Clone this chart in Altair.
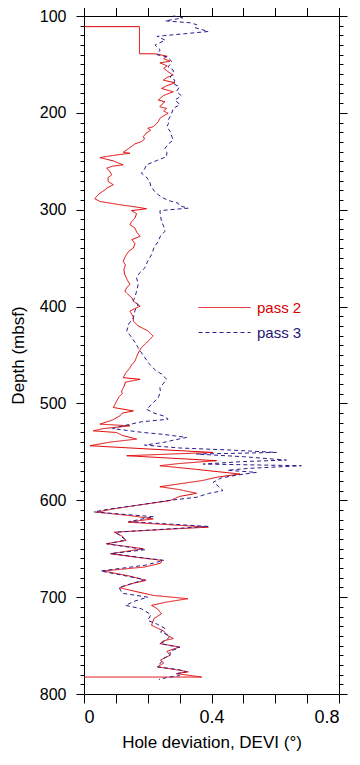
import altair as alt
import pandas as pd

series = ["pass 2", "pass 3"]

depth_pass2 = [111, 111, 139, 139, 141.5, 144, 146.7, 148.4, 151.5, 154, 157.6, 161, 163.5, 166.2, 169, 172, 174.8,
               178.2, 182, 186.8, 188.5, 191, 193.7, 195.4, 198, 200.5, 203, 205.7, 209, 212, 214.3, 216, 218, 221,
               224.6, 227, 229.7, 232, 235.9, 238, 240.7, 241.7, 244, 246.2, 249.6, 251.5, 253.7, 255, 257.2, 260,
               264, 267, 270.9, 274.3, 277, 279.5, 283, 286, 288.7, 291.5, 294.9, 297, 299, 301, 304, 308.5, 312,
               315.4, 319, 323, 327.5, 330.9, 335, 339.5, 343, 348, 353.2, 357, 362, 366.9, 372, 377.2, 380, 384.1,
               388, 391, 394.4, 397, 399.6, 402, 404.7, 408, 411, 415, 420, 425, 430.5, 436, 442.5, 448, 452, 456.2,
               460, 465, 469, 473.4, 475.1, 478, 483, 487.1, 490, 493, 499, 504.2, 507.7, 510, 512.8, 517, 521.4,
               523.1, 526, 528.3, 530, 533, 536.8, 540, 543.7, 547, 550.6, 554, 557, 559.1, 562, 564.3, 568, 572.9,
               576, 579.7, 583, 586, 589, 592.8, 596, 600.3, 605, 609, 612.3, 616, 619.2, 622.6, 627.7, 632.9, 637,
               641.5, 644.9, 650, 655.2, 659, 662.1, 665, 668.9, 673, 678, 682.7, 686, 690.3, 694, 698.2, 701.6,
               705, 708.5, 712, 717.1, 722, 726, 729.1, 735, 739, 742.8, 745, 748, 751.4, 756, 760, 765, 768, 772,
               775, 777.1, 779, 782.5, 782.5]
devi_pass2 = [0.0, 0.174, 0.174, 0.223, 0.261, 0.25, 0.27, 0.238, 0.261, 0.25, 0.264, 0.28, 0.26, 0.249, 0.285, 0.26,
              0.243, 0.28, 0.25, 0.233, 0.254, 0.245, 0.238, 0.259, 0.25, 0.264, 0.25, 0.238, 0.233, 0.225, 0.217,
              0.2, 0.209, 0.195, 0.186, 0.19, 0.18, 0.16, 0.144, 0.135, 0.123, 0.144, 0.09, 0.05, 0.092, 0.105,
              0.123, 0.09, 0.071, 0.08, 0.087, 0.075, 0.076, 0.092, 0.075, 0.066, 0.05, 0.04, 0.034, 0.05, 0.113,
              0.16, 0.196, 0.149, 0.165, 0.16, 0.15, 0.144, 0.16, 0.165, 0.176, 0.15, 0.16, 0.155, 0.14, 0.13,
              0.123, 0.13, 0.125, 0.128, 0.135, 0.144, 0.135, 0.128, 0.14, 0.15, 0.155, 0.165, 0.176, 0.16, 0.144,
              0.15, 0.155, 0.155, 0.17, 0.2, 0.217, 0.2, 0.18, 0.17, 0.165, 0.16, 0.15, 0.14, 0.13, 0.123, 0.176,
              0.13, 0.125, 0.118, 0.12, 0.11, 0.1, 0.092, 0.155, 0.12, 0.113, 0.09, 0.05, 0.144, 0.06, 0.029, 0.102,
              0.12, 0.165, 0.08, 0.019, 0.2, 0.405, 0.134, 0.3, 0.416, 0.3, 0.238, 0.35, 0.489, 0.42, 0.37, 0.3,
              0.238, 0.3, 0.353, 0.3, 0.27, 0.17, 0.09, 0.04, 0.15, 0.217, 0.138, 0.39, 0.095, 0.12, 0.132, 0.07,
              0.186, 0.083, 0.17, 0.245, 0.24, 0.19, 0.06, 0.14, 0.195, 0.15, 0.112, 0.16, 0.217, 0.326, 0.26,
              0.212, 0.23, 0.243, 0.22, 0.215, 0.212, 0.25, 0.26, 0.28, 0.25, 0.238, 0.3, 0.26, 0.27, 0.24, 0.25,
              0.231, 0.29, 0.327, 0.29, 0.369, 0.0]

depth_pass3 = [100, 101, 102, 105, 107, 109, 112, 116, 121, 125, 130, 135, 140, 142.2, 146.7, 150, 152.5, 156, 159.4,
               163, 166.2, 170, 173.1, 178, 182.4, 186.8, 191.3, 195.4, 200.5, 204, 207.4, 211, 214.3, 219, 224,
               228, 232, 236.6, 241, 245.2, 249, 253.7, 258, 262.3, 266, 270.9, 276, 281.2, 285, 288, 291, 293.2,
               296, 298.4, 300, 301, 306, 312, 317, 322.3, 327, 332.6, 339, 346.3, 353, 360, 365, 370.3, 377, 384,
               390, 394, 397.8, 404, 411.5, 418, 425.4, 432, 437, 442.5, 450, 459.7, 466, 470, 475.1, 479, 483.7,
               488, 494, 500, 506, 510, 513, 516.3, 519, 523.1, 526, 530, 532, 535.1, 538, 540.3, 543, 546, 548,
               550.6, 552.3, 555, 558.5, 560, 562.6, 564.3, 567, 569, 571.2, 574, 577, 581.4, 585, 590, 593, 596.9,
               600, 605, 609, 612, 617, 622, 627, 633, 637, 641, 645, 651, 655, 659, 662, 667, 673, 678, 682, 686,
               690, 696, 700, 704, 708.5, 712, 718, 724, 728, 732.5, 736, 740, 744, 748, 752, 756, 760, 763, 766,
               772, 775, 777, 779, 781, 783, 785]
devi_pass3 = [0.28, 0.3, 0.31, 0.255, 0.333, 0.354, 0.348, 0.39, 0.229, 0.255, 0.223, 0.239, 0.229, 0.261, 0.275,
              0.27, 0.264, 0.28, 0.28, 0.27, 0.285, 0.28, 0.3, 0.29, 0.306, 0.285, 0.301, 0.28, 0.275, 0.27, 0.264,
              0.265, 0.26, 0.27, 0.275, 0.28, 0.265, 0.254, 0.26, 0.259, 0.23, 0.196, 0.19, 0.18, 0.195, 0.206,
              0.21, 0.222, 0.235, 0.249, 0.27, 0.295, 0.3, 0.327, 0.27, 0.238, 0.24, 0.243, 0.25, 0.254, 0.24,
              0.233, 0.22, 0.212, 0.2, 0.191, 0.175, 0.165, 0.17, 0.165, 0.16, 0.155, 0.17, 0.16, 0.155, 0.14,
              0.134, 0.15, 0.16, 0.17, 0.185, 0.206, 0.225, 0.245, 0.259, 0.25, 0.238, 0.24, 0.233, 0.215, 0.196,
              0.22, 0.25, 0.264, 0.18, 0.123, 0.09, 0.186, 0.25, 0.322, 0.28, 0.249, 0.19, 0.3, 0.45, 0.604, 0.353,
              0.5, 0.635, 0.5, 0.374, 0.682, 0.52, 0.45, 0.541, 0.48, 0.43, 0.405, 0.42, 0.436, 0.39, 0.353, 0.27,
              0.17, 0.08, 0.031, 0.219, 0.141, 0.39, 0.099, 0.115, 0.131, 0.073, 0.193, 0.084, 0.175, 0.25, 0.193,
              0.052, 0.13, 0.19, 0.15, 0.11, 0.12, 0.2, 0.16, 0.13, 0.18, 0.21, 0.2, 0.23, 0.255, 0.24, 0.27, 0.26,
              0.24, 0.3, 0.27, 0.27, 0.25, 0.245, 0.23, 0.3, 0.32, 0.29, 0.3, 0.26, 0.235]

x_ticks = [0.0, 0.1, 0.2, 0.3, 0.4, 0.5, 0.6, 0.7, 0.8]
x_labelled = [0.0, 0.4, 0.8]
y_ticks = list(range(100, 801, 10))

rows = []
for i, (d, v) in enumerate(zip(depth_pass2, devi_pass2)):
    rows.append({"series": "pass 2", "depth": d, "devi": v, "i": i})
for i, (d, v) in enumerate(zip(depth_pass3, devi_pass3)):
    rows.append({"series": "pass 3", "depth": d, "devi": v, "i": i})
df = pd.DataFrame(rows)

FONT = "Liberation Sans"
xscale = alt.Scale(domain=[0, 0.8], nice=False, zero=False)
yscale = alt.Scale(domain=[100, 800], reverse=True, nice=False, zero=False)

major_y = "datum.value % 100 === 0"
y_tick_size = {"condition": {"test": major_y, "value": 8}, "value": 4}
common = dict(domainColor="black", domainWidth=1, tickColor="black", tickWidth=1, grid=False,
              labelFont=FONT, titleFont=FONT, labelColor="black", titleColor="black",
              titleFontWeight="normal")

x_label_test = " || ".join(f"datum.value == {v}" for v in x_labelled)

x_bottom = alt.Axis(orient="bottom", values=x_ticks, format=".1~f",
                    labelExpr=f"({x_label_test}) ? datum.label : ''",
                    tickSize=9, labelFontSize=18, labelPadding=5,
                    title="Hole deviation, DEVI (°)", titleFontSize=17, titlePadding=8, **common)
y_left = alt.Axis(orient="left", values=y_ticks, format="d",
                  labelExpr=f"{major_y} ? datum.label : ''",
                  tickSize=y_tick_size, labelFontSize=16, labelPadding=10,
                  title="Depth (mbsf)", titleFontSize=17, titlePadding=12, **common)
x_top = alt.Axis(orient="top", values=x_ticks, labels=False, tickSize=9, title="", **common)
y_right = alt.Axis(orient="right", values=y_ticks, labels=False, tickSize=y_tick_size, title="", **common)

color_scale = alt.Scale(domain=series, range=["#e00000", "#2e1a8c"])
dash_scale = alt.Scale(domain=series, range=[[1, 0], [4, 3]])
legend = alt.Legend(title=None, orient="none", legendX=114, legendY=279, symbolType="stroke",
                    symbolSize=2704, symbolStrokeWidth=1, clipHeight=25, rowPadding=0, padding=0,
                    labelFont=FONT, labelFontSize=15, labelOffset=6,
                    labelColor={"expr": "datum.label == 'pass 2' ? '#d40000' : '#241673'"})

lines = alt.Chart(df).mark_line(strokeWidth=1).encode(
    x=alt.X("devi:Q", scale=xscale, axis=x_bottom),
    y=alt.Y("depth:Q", scale=yscale, axis=y_left),
    color=alt.Color("series:N", scale=color_scale, legend=legend),
    strokeDash=alt.StrokeDash("series:N", scale=dash_scale, legend=legend),
    order=alt.Order("i:Q"),
)

frame = alt.Chart(df).mark_line(opacity=0).encode(
    x=alt.X("devi:Q", scale=xscale, axis=x_top),
    y=alt.Y("depth:Q", scale=yscale, axis=y_right),
    detail="series:N",
    order=alt.Order("i:Q"),
)

chart = alt.layer(lines, frame).resolve_axis(x="independent", y="independent").properties(
    width=255, height=678,
    autosize=alt.AutoSizeParams(type="none"),
    padding={"left": 76, "top": 8, "right": 11, "bottom": 58},
).configure_view(stroke=None)

chart.save("out.html", embed_options={"renderer": "svg", "actions": False})
